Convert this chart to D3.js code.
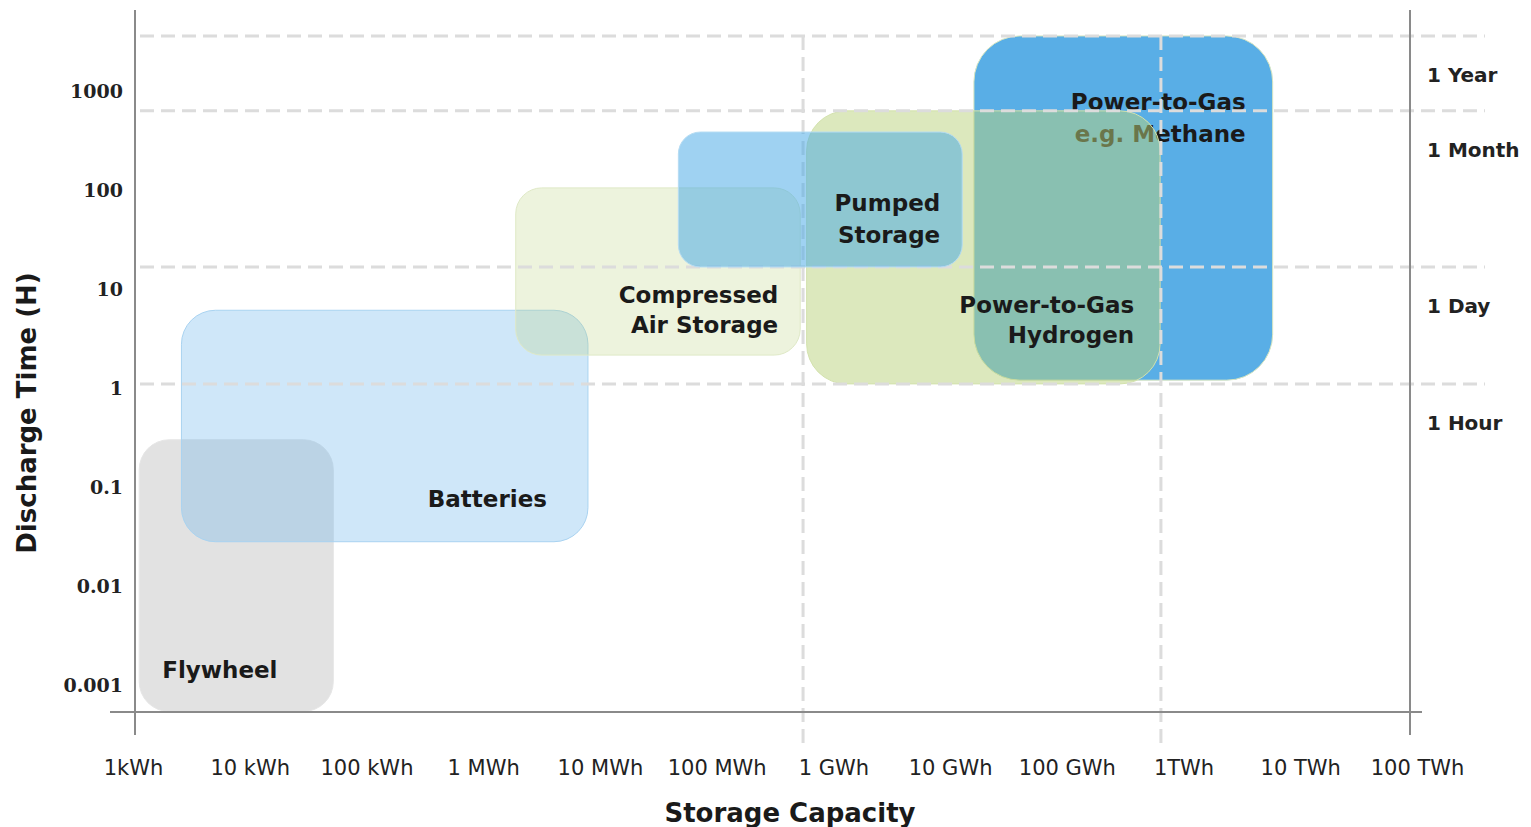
<!DOCTYPE html>
<html>
<head>
<meta charset="utf-8">
<script src="https://cdn.jsdelivr.net/npm/d3@7"></script>
<style>
body { margin: 0; background: #fff; }
</style>
</head>
<body>
<div id="chart"></div>
<script>
// storage capacity in kWh, discharge time in hours
var capacityTicks = [1, 10, 1e2, 1e3, 1e4, 1e5, 1e6, 1e7, 1e8, 1e9, 1e10, 1e11]
var capacityLabels = ["1kWh", "10 kWh", "100 kWh", "1 MWh", "10 MWh", "100 MWh", "1 GWh", "10 GWh", "100 GWh", "1TWh", "10 TWh", "100 TWh"]
var timeTicks = [0.001, 0.01, 0.1, 1, 10, 100, 1000]
var timeLabels = ["0.001", "0.01", "0.1", "1", "10", "100", "1000"]

// technologies, in drawing order
var techNames = ["Methane", "Flywheel", "Batteries", "Compressed", "Hydrogen", "Pumped"]
var techLabels = [["Power-to-Gas", "e.g. Methane"], ["Flywheel"], ["Batteries"], ["Compressed", "Air Storage"], ["Power-to-Gas", "Hydrogen"], ["Pumped", "Storage"]]
var capMin = [1.6e7, 1.13, 2.6, 1900, 5.9e5, 4.7e4]
var capMax = [5.8e9, 52, 7900, 5.2e5, 6.3e8, 1.27e7]
var timeMin = [1.2, 0.00054, 0.028, 2.15, 1.1, 16.7]
var timeMax = [3600, 0.30, 6.1, 105, 630, 385]

// reference lines
var durationNames = ["1 Year", "1 Month", "1 Day", "1 Hour"]
var durationLines = [3600, 630, 16.7, 1.1]
var capacityLines = [5.5e5, 6.4e8]

var width = 1531, height = 827
var sans = "DejaVu Sans, sans-serif"

var svg = d3.select("#chart").append("svg")
.attr("width", width)
.attr("height", height)
.style("font-family", sans)

var x = d3.scaleLog().domain([1, 1e11]).range([133, 1417])
var y = d3.scaleLog().domain([0.001, 1000]).range([685, 91])

var style = {
    Methane:    { fill: "#59aee6", op: 1,    r: 46, stroke: "#d8e6c0" },
    Flywheel:   { fill: "#a0a0a0", op: 0.3,  r: 30, stroke: "#e6e6e6" },
    Batteries:  { fill: "#5fb0ea", op: 0.3,  r: 34, stroke: "#a9d3f1" },
    Compressed: { fill: "#b9d17b", op: 0.26, r: 26, stroke: "#dfe9c6" },
    Hydrogen:   { fill: "#b9d17b", op: 0.5,  r: 40, stroke: "#d3e2ad" },
    Pumped:     { fill: "#3fa6e6", op: 0.5,  r: 22, stroke: "#b5dcf3" }
}

var techs = techNames.map(function (n, i) {
    return { name: n, lines: techLabels[i], x0: x(capMin[i]), x1: x(capMax[i]), y0: y(timeMax[i]), y1: y(timeMin[i]) }
})

function drawRect(g, d) {
    var s = style[d.name]
    g.append("rect")
    .attr("x", d.x0)
    .attr("y", d.y0)
    .attr("width", d.x1 - d.x0)
    .attr("height", d.y1 - d.y0)
    .attr("rx", s.r)
    .attr("fill", s.fill)
    .attr("fill-opacity", s.op)
    .attr("stroke", s.stroke)
    .attr("stroke-width", 1)
}

// where each label sits inside its box
function labelPos(d) {
    switch (d.name) {
        case "Methane":    return { anchor: "end",   x: d.x1 - 27, ys: [d.y0 + 74, d.y0 + 106] }
        case "Flywheel":   return { anchor: "start", x: d.x0 + 23, ys: [d.y1 - 33] }
        case "Batteries":  return { anchor: "end",   x: d.x1 - 41, ys: [d.y1 - 35] }
        case "Compressed": return { anchor: "end",   x: d.x1 - 22, ys: [d.y1 - 52, d.y1 - 22] }
        case "Hydrogen":   return { anchor: "end",   x: d.x1 - 26, ys: [d.y1 - 71, d.y1 - 41] }
        case "Pumped":     return { anchor: "end",   x: d.x1 - 22, ys: [d.y1 - 56, d.y1 - 24] }
    }
}

function drawLabel(g, d) {
    var p = labelPos(d)
    d.lines.forEach(function (line, i) {
        g.append("text")
        .attr("x", p.x)
        .attr("y", p.ys[i])
        .attr("text-anchor", p.anchor)
        .attr("font-size", 23)
        .attr("font-weight", "bold")
        .attr("fill", "#1a1a1a")
        .text(line)
    })
}

var byName = {}
techs.forEach(function (d) { byName[d.name] = d })

var boxes = svg.append("g")
// methane and its label go under hydrogen
drawRect(boxes, byName.Methane)
drawLabel(boxes, byName.Methane)
drawRect(boxes, byName.Flywheel)
drawRect(boxes, byName.Batteries)
drawRect(boxes, byName.Compressed)
drawRect(boxes, byName.Hydrogen)

// dashed reference lines
var grid = svg.append("g")
.attr("stroke", "#dcdcdc")
.attr("stroke-width", 3)
.attr("stroke-dasharray", "14,7")

grid.selectAll(".h")
.data(durationLines)
.join("line")
.attr("class", "h")
.attr("x1", 140)
.attr("x2", 1485)
.attr("y1", function (d) { return y(d) })
.attr("y2", function (d) { return y(d) })

grid.selectAll(".v")
.data(capacityLines)
.join("line")
.attr("class", "v")
.attr("x1", function (d) { return x(d) })
.attr("x2", function (d) { return x(d) })
.attr("y1", y(durationLines[0]))
.attr("y2", 745)

// pumped storage sits over the grid
var upper = svg.append("g")
drawRect(upper, byName.Pumped)
;["Flywheel", "Batteries", "Compressed", "Hydrogen", "Pumped"].forEach(function (n) {
    drawLabel(upper, byName[n])
})

// frame
var frame = svg.append("g").attr("stroke", "#8a8a8a").attr("stroke-width", 2)
frame.append("line").attr("x1", 135).attr("x2", 135).attr("y1", 10).attr("y2", 735)
frame.append("line").attr("x1", 1410).attr("x2", 1410).attr("y1", 10).attr("y2", 735)
frame.append("line").attr("x1", 110).attr("x2", 1422).attr("y1", 712).attr("y2", 712)

// axes (labels only)
var xAxis = svg.append("g")
.attr("transform", "translate(0,712)")
.call(d3.axisBottom(x)
    .tickValues(capacityTicks)
    .tickFormat(function (d, i) { return capacityLabels[i] })
    .tickSize(0)
    .tickPadding(48))
xAxis.select(".domain").remove()
xAxis.selectAll("text")
.style("font-family", sans)
.style("font-size", "21px")
.attr("fill", "#222")

var yAxis = svg.append("g")
.attr("transform", "translate(135,0)")
.call(d3.axisLeft(y)
    .tickValues(timeTicks)
    .tickFormat(function (d, i) { return timeLabels[i] })
    .tickSize(0)
    .tickPadding(12))
yAxis.select(".domain").remove()
yAxis.selectAll("text")
.style("font-family", "DejaVu Serif, serif")
.style("font-weight", "bold")
.style("font-size", "19px")
.attr("fill", "#222")

// duration names on the right
svg.selectAll(".dur")
.data(durationLines)
.join("text")
.attr("class", "dur")
.attr("x", 1427)
.attr("y", function (d) { return y(d) + 41 })
.attr("dominant-baseline", "middle")
.attr("font-size", 20)
.attr("font-weight", "bold")
.attr("fill", "#222")
.text(function (d, i) { return durationNames[i] })

// titles
svg.append("text")
.attr("x", 790)
.attr("y", 822)
.attr("text-anchor", "middle")
.attr("font-size", 26)
.attr("font-weight", "bold")
.attr("fill", "#1a1a1a")
.text("Storage Capacity")

svg.append("text")
.attr("transform", "translate(36,413) rotate(-90)")
.attr("text-anchor", "middle")
.attr("font-size", 26)
.attr("font-weight", "bold")
.attr("fill", "#1a1a1a")
.text("Discharge Time (H)")
</script>
</body>
</html>
